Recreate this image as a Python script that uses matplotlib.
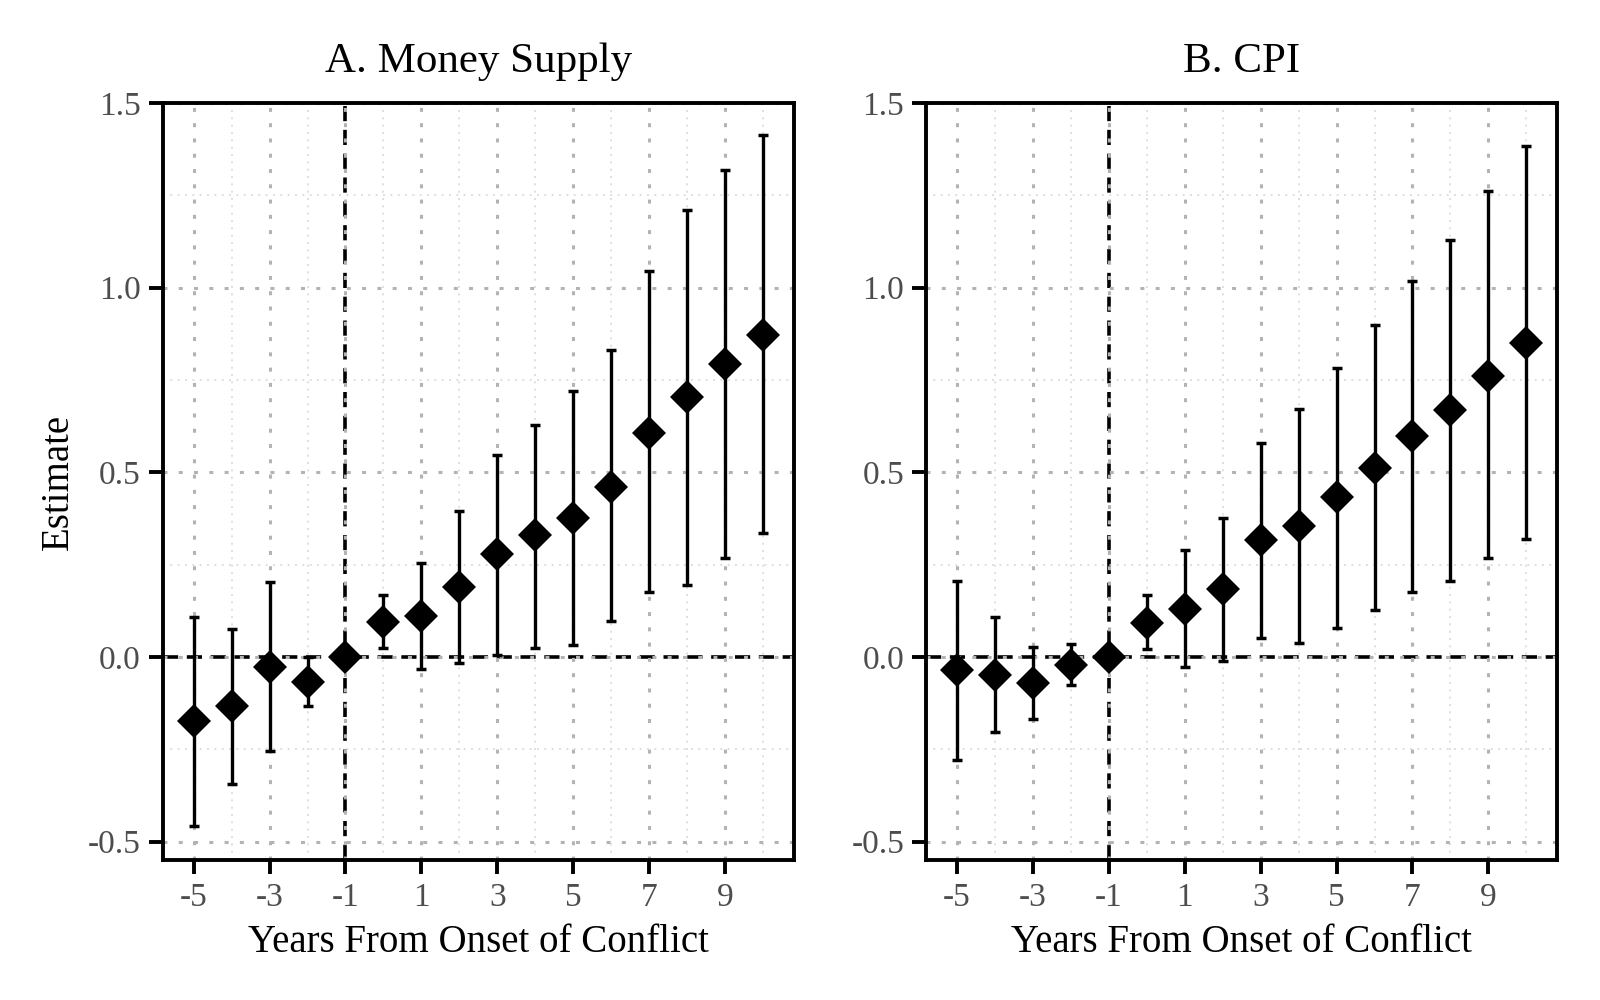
import matplotlib
matplotlib.use('Agg')
import matplotlib.pyplot as plt
import numpy as np

# event-time axis
years = [-5, -4, -3, -2, -1, 0, 1, 2, 3, 4, 5, 6, 7, 8, 9, 10]

# A. Money Supply
money_est = [-0.174, -0.134, -0.026, -0.068, 0.0, 0.095, 0.112, 0.188, 0.280,
             0.329, 0.377, 0.461, 0.606, 0.703, 0.793, 0.872]
money_hi = [0.109, 0.075, 0.204, 0.0, 0.0, 0.167, 0.253, 0.395, 0.547,
            0.628, 0.720, 0.830, 1.044, 1.210, 1.318, 1.413]
money_lo = [-0.457, -0.344, -0.254, -0.134, 0.0, 0.025, -0.033, -0.017, 0.004,
            0.025, 0.033, 0.098, 0.175, 0.195, 0.268, 0.336]

# B. CPI
cpi_est = [-0.036, -0.048, -0.070, -0.023, 0.0, 0.093, 0.131, 0.184, 0.316,
           0.354, 0.432, 0.512, 0.598, 0.669, 0.761, 0.849]
cpi_hi = [0.206, 0.108, 0.028, 0.036, 0.0, 0.167, 0.289, 0.377, 0.580,
          0.670, 0.782, 0.899, 1.017, 1.130, 1.261, 1.383]
cpi_lo = [-0.278, -0.203, -0.167, -0.077, 0.0, 0.021, -0.026, -0.012, 0.052,
          0.039, 0.077, 0.126, 0.175, 0.206, 0.267, 0.318]

panels = [
    ('A. Money Supply', money_est, money_lo, money_hi),
    ('B. CPI', cpi_est, cpi_lo, cpi_hi),
]

x_major = [-5, -3, -1, 1, 3, 5, 7, 9]
x_minor = [-4, -2, 0, 2, 4, 6, 8, 10]
y_major = [-0.5, 0.0, 0.5, 1.0, 1.5]
y_minor = [-0.25, 0.25, 0.75, 1.25]

plt.rcParams['font.family'] = ['Liberation Serif', 'DejaVu Serif']
plt.rcParams['axes.unicode_minus'] = False

fig = plt.figure(figsize=(16, 10), dpi=100)
boxes = [[0.102, 0.14, 0.394, 0.757], [0.579, 0.14, 0.394, 0.757]]

for i, (title, est, lo, hi) in enumerate(panels):
    ax = fig.add_axes(boxes[i])
    est = np.array(est)
    yerr = [est - np.array(lo), np.array(hi) - est]

    ax.set_xlim(-5.8, 10.8)
    ax.set_ylim(-0.55, 1.5)
    ax.set_xticks(x_major)
    ax.set_xticks(x_minor, minor=True)
    ax.set_yticks(y_major)
    ax.set_yticks(y_minor, minor=True)
    ax.set_yticklabels(['%.1f' % v for v in y_major])

    # grid: heavy dotted major, light dotted minor
    ax.grid(which='major', color='#b3b3b3', lw=2.2, ls=(0, (1.3, 3.7)), zorder=0)
    ax.grid(which='minor', color='#d6d6d6', lw=1.1, ls=(0, (1.3, 3.5)), zorder=0)
    ax.tick_params(which='minor', length=0)
    ax.tick_params(which='major', length=10, width=2.8, color='black',
                   labelsize=24, labelcolor='#4d4d4d', pad=6)

    ax.axhline(0, color='black', lw=2.6, ls=(0, (4.2, 2.4)), zorder=1)
    ax.axvline(-1, color='black', lw=2.6, ls=(0, (4.2, 2.4)), zorder=1)

    ax.errorbar(years, est, yerr=yerr, fmt='none', ecolor='black',
                elinewidth=2.4, capsize=3.5, capthick=2.5, zorder=3)
    ax.plot(years, est, 'D', color='black', ms=17.5, mew=0, zorder=4)

    for s in ax.spines.values():
        s.set_linewidth(2.8)

    ax.set_title(title, fontsize=31, pad=22)
    ax.set_xlabel('Years From Onset of Conflict', fontsize=28, labelpad=8)
    if i == 0:
        ax.set_ylabel('Estimate', fontsize=28, labelpad=8)

plt.savefig('out.png', dpi=100)
